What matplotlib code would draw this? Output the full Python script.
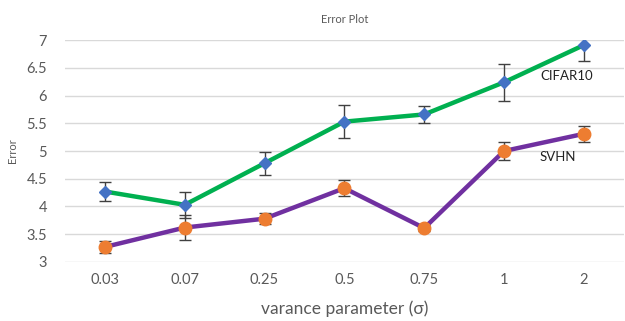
import matplotlib.pyplot as plt
import numpy as np

# data
sigma_labels = ["0.03", "0.07", "0.25", "0.5", "0.75", "1", "2"]
cifar10_err = [4.27, 4.03, 4.78, 5.53, 5.66, 6.24, 6.91]
cifar10_sd = [0.18, 0.23, 0.21, 0.30, 0.15, 0.33, 0.28]
svhn_err = [3.27, 3.62, 3.78, 4.33, 3.61, 5.00, 5.31]
svhn_sd = [0.11, 0.22, 0.10, 0.14, 0.06, 0.17, 0.14]
y_ticks = [3, 3.5, 4, 4.5, 5, 5.5, 6, 6.5, 7]
y_tick_labels = ["3", "3.5", "4", "4.5", "5", "5.5", "6", "6.5", "7"]

plt.rcParams["font.family"] = ["Lato", "DejaVu Sans"]
text_gray = "#595959"

fig = plt.figure(figsize=(6.25, 3.21), dpi=100)
ax = fig.add_axes([0.104, 0.184, 0.894, 0.691])

x = np.arange(len(sigma_labels))

# lines
ax.plot(x, cifar10_err, color="#00B050", lw=3.2, zorder=2, solid_capstyle="round")
ax.plot(x, svhn_err, color="#7030A0", lw=3.2, zorder=2, solid_capstyle="round")

# error bars
ax.errorbar(x, cifar10_err, yerr=cifar10_sd, fmt="none", ecolor="#404040",
            elinewidth=1.0, capsize=4, capthick=1.0, zorder=3)
ax.errorbar(x, svhn_err, yerr=svhn_sd, fmt="none", ecolor="#404040",
            elinewidth=1.0, capsize=4, capthick=1.0, zorder=3)

# markers
ax.plot(x, cifar10_err, ls="none", marker="D", ms=6.5, color="#4472C4", zorder=4)
ax.plot(x, svhn_err, ls="none", marker="o", ms=9, color="#ED7D31", zorder=4)

# series labels
ax.text(5.45, 6.35, "CIFAR10", fontsize=9.5, color="#222222", va="center")
ax.text(5.45, 4.89, "SVHN", fontsize=9.5, color="#222222", va="center")

ax.set_xlim(-0.5, 6.5)
ax.set_ylim(3, 7)
ax.set_xticks(x)
ax.set_xticklabels(sigma_labels)
ax.set_yticks(y_ticks)
ax.set_yticklabels(y_tick_labels)
ax.tick_params(length=0, labelsize=10.5, colors=text_gray, pad=8)
ax.tick_params(axis="y", pad=13)
ax.grid(axis="y", color="#D9D9D9", lw=1.0)
ax.set_axisbelow(True)
for s in ax.spines.values():
    s.set_visible(False)

ax.set_title("Error Plot", fontsize=8, color=text_gray, pad=12)
ax.set_ylabel("Error", fontsize=8, color=text_gray, labelpad=6)
ax.set_xlabel("varance parameter (σ)", fontsize=12.5, color=text_gray, labelpad=10)

fig.savefig("out.png", dpi=100)
